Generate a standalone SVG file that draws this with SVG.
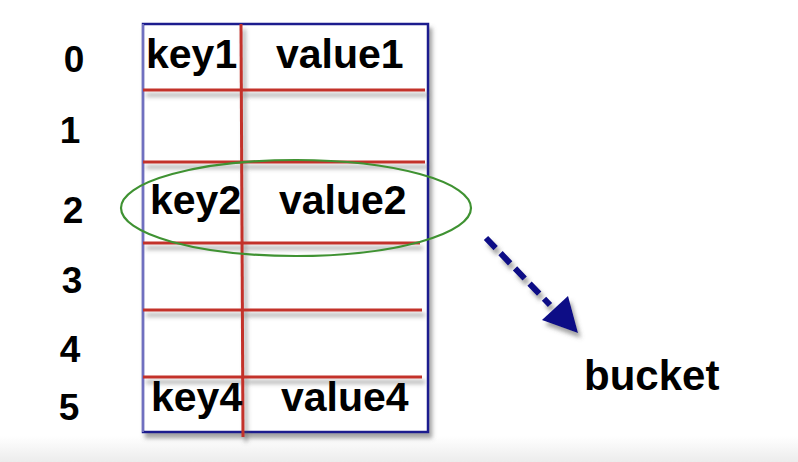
<svg xmlns="http://www.w3.org/2000/svg" width="798" height="462" viewBox="0 0 798 462">
<defs>
<linearGradient id="bg" x1="0" y1="0" x2="0" y2="1">
<stop offset="0" stop-color="#ffffff"/>
<stop offset="1" stop-color="#ececec"/>
</linearGradient>
<filter id="sh" x="-10%" y="-10%" width="130%" height="130%">
<feDropShadow dx="3" dy="5" stdDeviation="2" flood-color="#555" flood-opacity="0.55"/>
</filter>
<style>
.t{font-family:"Liberation Sans",Arial,sans-serif;font-weight:bold;fill:#000;}
.cell{font-size:41px;}
.idx{font-size:37px;text-anchor:middle;}
.red{stroke:#c3312b;stroke-width:3;fill:none;}
</style>
</defs>
<rect x="0" y="0" width="798" height="462" fill="#fff"/>
<rect x="0" y="436" width="798" height="26" fill="url(#bg)"/>
<g id="table">
<rect x="143" y="24" width="285" height="408" fill="#fff" stroke="#1c1c8e" stroke-width="2.5" filter="url(#sh)"/>
<line x1="143" y1="24" x2="143" y2="432" stroke="#7070c0" stroke-width="2"/>
<g filter="url(#sh)">
<line class="red" x1="143" y1="90" x2="425" y2="90"/>
<line class="red" x1="143" y1="162" x2="425" y2="162"/>
<line class="red" x1="143" y1="243" x2="420" y2="243"/>
<line class="red" x1="143" y1="310" x2="422" y2="310"/>
<line class="red" x1="143" y1="377" x2="422" y2="377"/>
<line class="red" x1="241" y1="24" x2="243" y2="437"/>
</g>
</g>
<g id="row0"><text class="t cell" x="146" y="68">key1</text><text class="t cell" x="276" y="68">value1</text></g>
<g id="row2"><text class="t cell" x="150" y="214">key2</text><text class="t cell" x="279" y="214">value2</text></g>
<g id="row5"><text class="t cell" x="151" y="411">key4</text><text class="t cell" x="281" y="411">value4</text></g>
<g id="indices">
<text class="t idx" x="74" y="72">0</text>
<text class="t idx" x="70" y="143">1</text>
<text class="t idx" x="73" y="223">2</text>
<text class="t idx" x="72" y="293">3</text>
<text class="t idx" x="70" y="362">4</text>
<text class="t idx" x="69" y="420">5</text>
</g>
<g id="highlight">
<ellipse cx="296" cy="208" rx="175" ry="48" fill="none" stroke="#3f9232" stroke-width="2.2"/>
</g>
<g id="connectors" filter="url(#sh)">
<line x1="486" y1="238" x2="550" y2="305" stroke="#0b0b86" stroke-width="6" stroke-dasharray="14,7"/>
<polygon points="542,320 568,296 578,333" fill="#0b0b86"/>
</g>
<g id="bucket"><text class="t" x="584" y="390" font-size="42">bucket</text></g>
</svg>
